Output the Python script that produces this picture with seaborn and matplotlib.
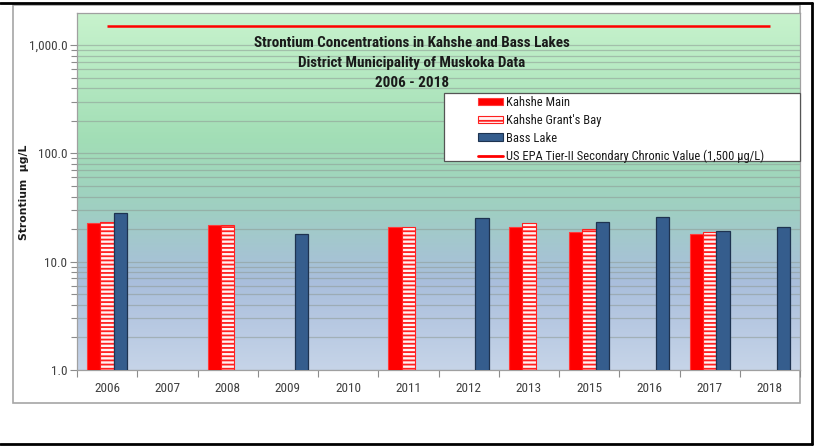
import numpy as np
import pandas as pd
import matplotlib
matplotlib.use("Agg")
import matplotlib.pyplot as plt
import seaborn as sns
from matplotlib.colors import LinearSegmentedColormap
from matplotlib.patches import Patch, Rectangle
from matplotlib.lines import Line2D
from matplotlib.ticker import FixedLocator, LogLocator, NullFormatter

# ---- data (Strontium, ug/L) ----
years = ["2006", "2007", "2008", "2009", "2010", "2011",
         "2012", "2013", "2015", "2016", "2017", "2018"]
kahshe_main = [22.6, np.nan, 21.8, np.nan, np.nan, 20.8,
               np.nan, 20.8, 18.9, np.nan, 18.1, np.nan]
kahshe_grants_bay = [23.3, np.nan, 21.9, np.nan, np.nan, 20.8,
                     np.nan, 22.6, 19.9, np.nan, 18.9, np.nan]
bass_lake = [28.0, np.nan, np.nan, 17.9, np.nan, np.nan,
             25.1, np.nan, 23.1, 26.0, 19.3, 21.1]
series_names = ["Kahshe Main", "Kahshe Grant's Bay", "Bass Lake"]
epa_limit = 1500.0
epa_label = "US EPA Tier-II Secondary Chronic Value (1,500 \u00b5g/L)"
title_lines = ["Strontium Concentrations in Kahshe and Bass Lakes",
               "District Municipality of Muskoka Data",
               "2006 - 2018"]
ytick_values = [1.0, 10.0, 100.0, 1000.0]
ytick_labels = ["1.0", "10.0", "100.0", "1,000.0"]

df = pd.DataFrame({
    "Year": years * 3,
    "Series": sum([[s] * len(years) for s in series_names], []),
    "Value": kahshe_main + kahshe_grants_bay + bass_lake,
})

sns.set_theme(style="white")
plt.rcParams["font.family"] = ["Roboto Condensed", "DejaVu Sans Condensed", "Roboto", "DejaVu Sans"]
plt.rcParams["hatch.linewidth"] = 1.3

W, H = 815, 446
fig = plt.figure(figsize=(W / 100, H / 100), dpi=100)
fig.patch.set_facecolor("white")

def fx(px):
    return px / W

def fy(py):
    return 1 - py / H

# plot area in pixel terms
L, R, T, B = 77, 800, 13, 370
ax = fig.add_axes([fx(L), fy(B), fx(R - L), fy(T) - fy(B)])

# chart border and outer frame
fig.add_artist(Rectangle((fx(13), fy(403)), fx(800 - 13), fy(5) - fy(403),
                         transform=fig.transFigure, fill=False,
                         edgecolor="#a6a6a6", lw=1.2, zorder=0))
fig.add_artist(Line2D([0, fx(812)], [fy(3), fy(3)], transform=fig.transFigure,
                      color="black", lw=2))
fig.add_artist(Line2D([0, fx(812)], [fy(444), fy(444)], transform=fig.transFigure,
                      color="black", lw=2))
fig.add_artist(Line2D([fx(812), fx(812)], [fy(3), fy(444)], transform=fig.transFigure,
                      color="black", lw=2))

ax.set_yscale("log")
sns.barplot(data=df, x="Year", y="Value", hue="Series", order=years,
            hue_order=series_names, errorbar=None, width=0.66,
            legend=False, ax=ax)

styles = [
    dict(facecolor="#ff0000", edgecolor="#ff3b3b", hatch=None, lw=0.8),
    dict(facecolor="#fff2f2", edgecolor="#ff2020", hatch="----", lw=0.8),
    dict(facecolor="#355d8d", edgecolor="#1e3350", hatch=None, lw=0.9),
]
for cont, st in zip(ax.containers, styles):
    for p in cont:
        p.set_facecolor(st["facecolor"])
        p.set_edgecolor(st["edgecolor"])
        p.set_linewidth(st["lw"])
        if st["hatch"]:
            p.set_hatch(st["hatch"])
        p.set_zorder(3)

# EPA guideline spanning the first to last category
ax.hlines(epa_limit, 0, len(years) - 1, color="#ff0000", lw=1.8, zorder=4)

# background gradient (green at top fading to blue at bottom)
cmap = LinearSegmentedColormap.from_list(
    "bg", [(0.0, "#c6d4e8"), (0.25, "#a9bedc"), (0.45, "#9fcfc2"),
           (0.65, "#a2deb6"), (1.0, "#c8f3cd")])
grad = np.linspace(0, 1, 256).reshape(-1, 1)
ax.imshow(grad, extent=[0, 1, 0, 1], origin="lower", transform=ax.transAxes,
          cmap=cmap, aspect="auto", zorder=0)
ax.set_xlim(-0.5, len(years) - 0.5)
ax.set_ylim(1, 1980)

# gridlines on every major and minor decade step
ax.yaxis.set_major_locator(FixedLocator(ytick_values))
ax.yaxis.set_minor_locator(LogLocator(base=10, subs=np.arange(2, 10)))
ax.yaxis.set_minor_formatter(NullFormatter())
ax.set_yticklabels(ytick_labels)
ax.grid(axis="y", which="both", color="#8e9a94", alpha=0.55, lw=0.9, zorder=1)
ax.grid(axis="x", visible=False)
ax.set_axisbelow(True)

ax.tick_params(axis="y", which="major", direction="out", length=5, width=0.8,
               color="#8c8c8c", labelsize=9.5, labelcolor="#404040", pad=2, left=True)
ax.tick_params(axis="y", which="minor", direction="out", length=4, width=0.8,
               color="#8c8c8c", left=True)
ax.tick_params(axis="x", which="major", length=0, labelsize=9.5,
               labelcolor="#404040", pad=9)
ax.set_xticks(np.arange(-0.5, len(years) + 0.5, 1.0), minor=True)
ax.tick_params(axis="x", which="minor", direction="out", length=5, width=0.8,
               color="#8c8c8c", bottom=True)

for side in ["left", "bottom", "top", "right"]:
    ax.spines[side].set_color("#a0a0a0")
    ax.spines[side].set_linewidth(0.9)

ax.set_xlabel("")
ax.set_ylabel("")
fig.text(fx(24), fy(192), "Strontium  \u00b5g/L", rotation=90, ha="center",
         va="center", fontsize=7.8, fontweight="bold", family="DejaVu Sans",
         color="#1a1a1a")

# title inside plot area
for line, ypx in zip(title_lines, [43, 63, 83]):
    fig.text(fx(412), fy(ypx), line, ha="center", va="center", fontsize=10.9,
             fontweight="bold", color="#1a1a1a")

# legend box
fig.add_artist(Rectangle((fx(444), fy(161)), fx(800 - 444), fy(93) - fy(161),
                         transform=fig.transFigure, facecolor="white",
                         edgecolor="#555555", lw=0.9, zorder=5))
handles = [
    Patch(facecolor=styles[0]["facecolor"], edgecolor=styles[0]["edgecolor"], lw=0.8),
    Patch(facecolor=styles[1]["facecolor"], edgecolor=styles[1]["edgecolor"],
          hatch="--", lw=0.8),
    Patch(facecolor=styles[2]["facecolor"], edgecolor=styles[2]["edgecolor"], lw=0.8),
    Line2D([0], [0], color="#ff0000", lw=2),
]
leg = fig.legend(handles, series_names + [epa_label], loc="upper left",
                 bbox_to_anchor=(fx(478), fy(96)), frameon=False, fontsize=9,
                 handlelength=2.0, handleheight=0.55, handletextpad=0.25,
                 labelspacing=0.38, borderpad=0.0, borderaxespad=0.0)
leg.set_zorder(6)
for t in leg.get_texts():
    t.set_color("#1a1a1a")

fig.savefig("out.png", dpi=100)
